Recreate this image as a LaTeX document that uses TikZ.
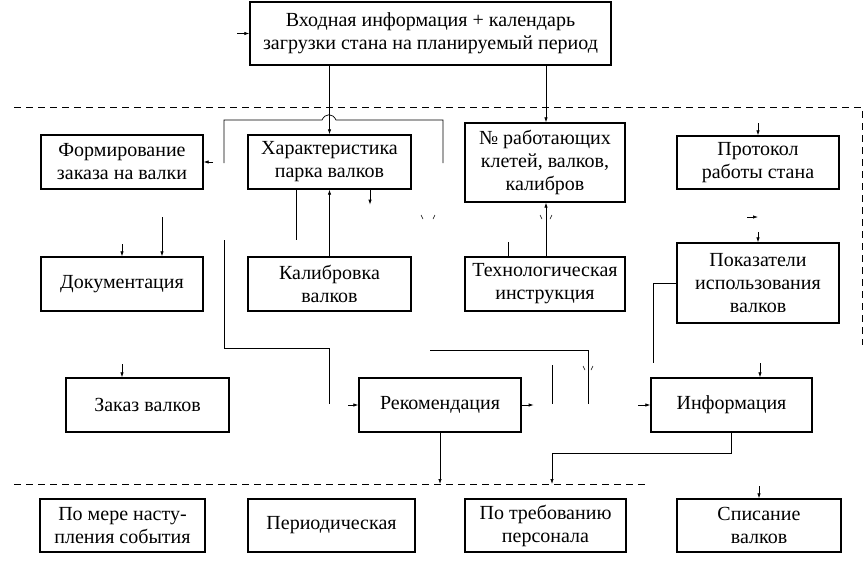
\documentclass[tikz,border=0pt]{standalone}
\usepackage{fontspec}
\setmainfont{Liberation Serif}
\usetikzlibrary{arrows.meta,calc,positioning}

\begin{document}
\begin{tikzpicture}[x=1pt,y=-1pt,
    box/.style={draw, line width=1.3pt, align=center, inner sep=2pt,
      font=\fontsize{20}{23}\selectfont},
    conn/.style={line width=.7pt},
    arr/.style={conn, -{Latex[length=5pt,width=3.4pt]}},
    frame/.style={dashed, line width=.7pt, dash pattern=on 7pt off 5pt}]
    \useasboundingbox (0,0) rectangle (864,565);

    \node[box, minimum width=361pt, minimum height=63pt] (inp) at (430.5,33.5)
      {Входная информация + календарь\\загрузки стана на планируемый период};

    \node[box, minimum width=162pt, minimum height=54pt] (form) at (122,162) {Формирование\\заказа на валки};
    \node[box, minimum width=163pt, minimum height=54pt] (har) at (329.5,162) {Характеристика\\парка валков};
    \node[box, minimum width=160pt, minimum height=79pt] (num) at (545,162.5) {№ работающих\\клетей, валков,\\калибров};
    \node[box, minimum width=162pt, minimum height=53pt] (prot) at (758,162.5) {Протокол\\работы стана};

    \node[box, minimum width=162pt, minimum height=54pt] (doc) at (122,284) {Документация};
    \node[box, minimum width=163pt, minimum height=54pt] (kal) at (329.5,284) {Калибровка\\валков};
    \node[box, minimum width=160pt, minimum height=54pt] (tech) at (545,284) {Технологическая\\инструкция};
    \node[box, minimum width=162pt, minimum height=80pt] (pok) at (758,283) {Показатели\\использования\\валков};

    \node[box, minimum width=163pt, minimum height=54pt] (zak) at (147.5,405) {Заказ валков};
    \node[box, minimum width=162pt, minimum height=54pt] (rec) at (440,405) {Рекомендация};
    \node[box, minimum width=161pt, minimum height=54pt] (info) at (731.5,405) {Информация};

    \node[box, minimum width=165pt, minimum height=53pt] (ev) at (122.5,525.5) {По мере насту-\\пления события};
    \node[box, minimum width=167pt, minimum height=53pt] (per) at (331.5,525.5) {Периодическая};
    \node[box, minimum width=161pt, minimum height=53pt] (pers) at (545.5,525.5) {По требованию\\персонала};
    \node[box, minimum width=164pt, minimum height=53pt] (spis) at (759,525.5) {Списание\\валков};

    \draw[frame] (14,107) -- (862,107) -- (862,345);
    \draw[frame] (14,484) -- (645,484);

    \coordinate (inl) at (237,33.5);
    \coordinate (hl) at (224,163);
    \coordinate (hr) at (443,163);
    \draw[arr] (inl) -- (inp.west);
    \draw[arr] (inp.south -| har) -- (har.north);
    \draw[arr] (inp.south -| 546,0) -- (num.north -| 546,0);
    \draw[conn] (hl) -- (224,120) -- (322,120) .. controls (325,113) and (333,113) .. (336,120)
      -- (443,120) -- (hr);
    \draw[arr] (213,162) -- (form.east);

    \draw[conn] (har.south -| 296,0) -- (296,240);
    \draw[arr] (kal.north) -- (har.south);
    \draw[arr] (har.south -| 370,0) -- ++(0,15);
    \draw[arr] (tech.north -| 546,0) -- (num.south -| 546,0);
    \draw[conn] (508,242) -- (tech.north -| 508,0);
    \foreach \x/\d in {421/1, 435/-1, 540/1, 552/-1}
      \draw[conn, line width=.5pt] (\x,215) -- ++(\d*2,4);

    \draw[arr] (122,244) -- (doc.north -| 122,0);
    \draw[arr] (162,217) -- (doc.north -| 162,0);
    \draw[arr] (758,123) -- (prot.north);
    \draw[arr] (747,217) -- (758,217);
    \draw[arr] (758,232) -- (pok.north);

    \draw[conn] (224,240) -- (224,348) -- (329,348) -- (329,404);
    \draw[arr] (348,405) -- (rec.west);
    \draw[conn] (430,350) -- (588,350) -- (588,404);
    \draw[conn] (552,365) -- (552,404);
    \draw[conn, line width=.5pt] (583,366) -- ++(2,4) (593,366) -- ++(-2,4);
    \draw[arr] (rec.east) -- ++(12,0);
    \draw[arr] (638,405) -- (info.west);
    \draw[conn] (pok.west) -- (653,283) -- (653,363);
    \draw[arr] (760,363) -- (info.north -| 760,0);
    \draw[arr] (122,364) -- (zak.north -| 122,0);

    \draw[arr] (rec.south) -- (rec.south |- 0,484);
    \draw[arr] (info.south) -- (731.5,453) -- (552,453) -- (552,484);
    \draw[arr] (759,486) -- (spis.north);
\end{tikzpicture}
\end{document}
